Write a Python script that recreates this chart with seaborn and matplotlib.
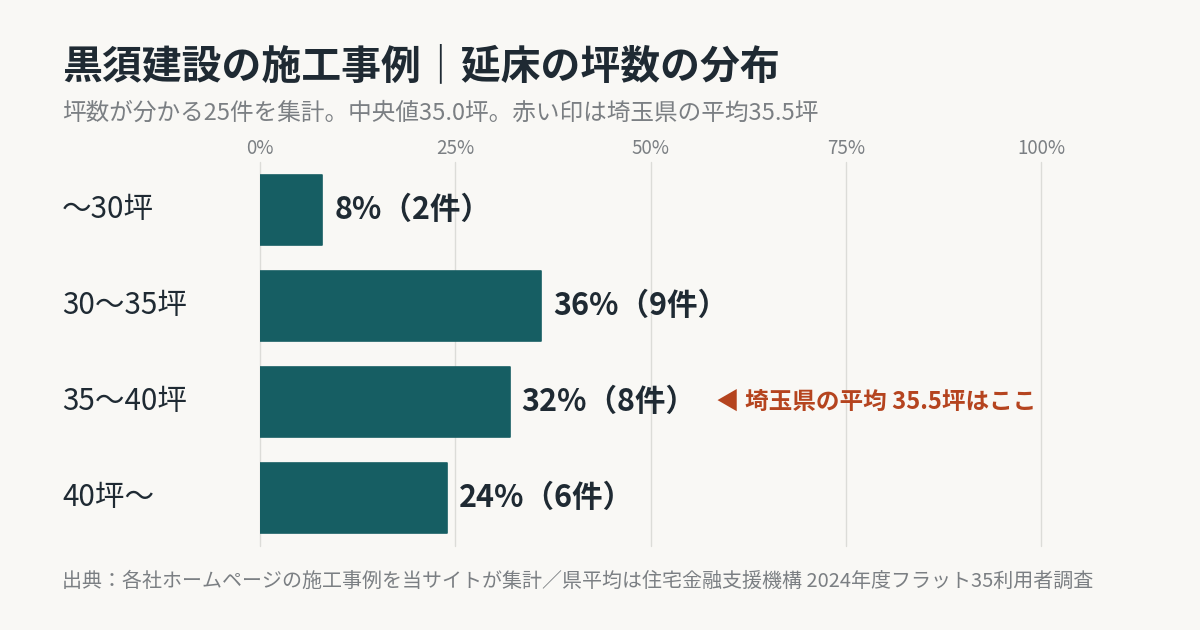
import matplotlib
matplotlib.use("Agg")
import matplotlib.pyplot as plt
import seaborn as sns
import pandas as pd
from matplotlib.transforms import blended_transform_factory

categories = ["〜30坪", "30〜35坪", "35〜40坪", "40坪〜"]
shares = [8, 36, 32, 24]
counts = [2, 9, 8, 6]
x_ticks = [0, 25, 50, 75, 100]
x_tick_labels = ["0%", "25%", "50%", "75%", "100%"]
title = "黒須建設の施工事例｜延床の坪数の分布"
subtitle = "坪数が分かる25件を集計。中央値35.0坪。赤い印は埼玉県の平均35.5坪"
note = "◀ 埼玉県の平均 35.5坪はここ"
note_category = "35〜40坪"
footer = "出典：各社ホームページの施工事例を当サイトが集計／県平均は住宅金融支援機構 2024年度フラット35利用者調査"

BG = "#f9f8f5"
BAR = "#165e63"
DARK = "#1f2a33"
GRAY = "#7b7f83"
ACCENT = "#b5441f"
GRID = "#dcdcd8"

sns.set_theme(style="white")
plt.rcParams["font.family"] = ["Noto Sans CJK JP", "DejaVu Sans"]

df = pd.DataFrame({"category": categories, "share": shares, "count": counts})

fig = plt.figure(figsize=(12, 6.3), dpi=100, facecolor=BG)
ax = fig.add_axes([260 / 1200, 1 - 546 / 630, 781 / 1200, 384 / 630])
ax.set_facecolor(BG)

sns.barplot(data=df, x="share", y="category", order=categories, color=BAR,
            width=0.72, ax=ax, saturation=1, zorder=3)
for p in ax.patches:
    p.set_edgecolor(BAR)
    p.set_linewidth(1.2)
    p.set_joinstyle("round")

ax.set_xlim(0, 100)
ax.set_ylim(3.5, -0.5)
ax.set_xticks(x_ticks)
ax.set_xticklabels(x_tick_labels)
ax.xaxis.tick_top()
ax.tick_params(axis="x", length=0, pad=2.5, labelsize=13.5, labelcolor=GRAY)
ax.set_yticks([])
ax.set_xlabel("")
ax.set_ylabel("")
for s in ax.spines.values():
    s.set_visible(False)
for xt in x_ticks:
    ax.axvline(xt, color=GRID, lw=1, zorder=1, clip_on=False)

trans = blended_transform_factory(fig.transFigure, ax.transData)
for i, (cat, sh, ct) in enumerate(zip(categories, shares, counts)):
    ax.text(62 / 1200, i, cat, transform=trans, ha="left", va="center",
            fontsize=21.3, color=DARK)
    ax.annotate(f"{sh}%（{ct}件）", xy=(sh, i), xytext=(8.5, 0),
                textcoords="offset points", ha="left", va="center",
                fontsize=22, fontweight="bold", color=DARK)

ni = categories.index(note_category)
ax.text((716 - 260) / 781 * 100, ni, note, ha="left", va="center",
        fontsize=17, fontweight="bold", color=ACCENT)

fig.text(62 / 1200, 1 - 67 / 630, title, ha="left", va="center",
         fontsize=28.7, fontweight="bold", color=DARK)
fig.text(62 / 1200, 1 - 113 / 630, subtitle, ha="left", va="center",
         fontsize=17, color=GRAY)
fig.text(62 / 1200, 1 - 581 / 630, footer, ha="left", va="center",
         fontsize=14.4, color=GRAY)

fig.savefig("out.png", dpi=100, facecolor=BG)
